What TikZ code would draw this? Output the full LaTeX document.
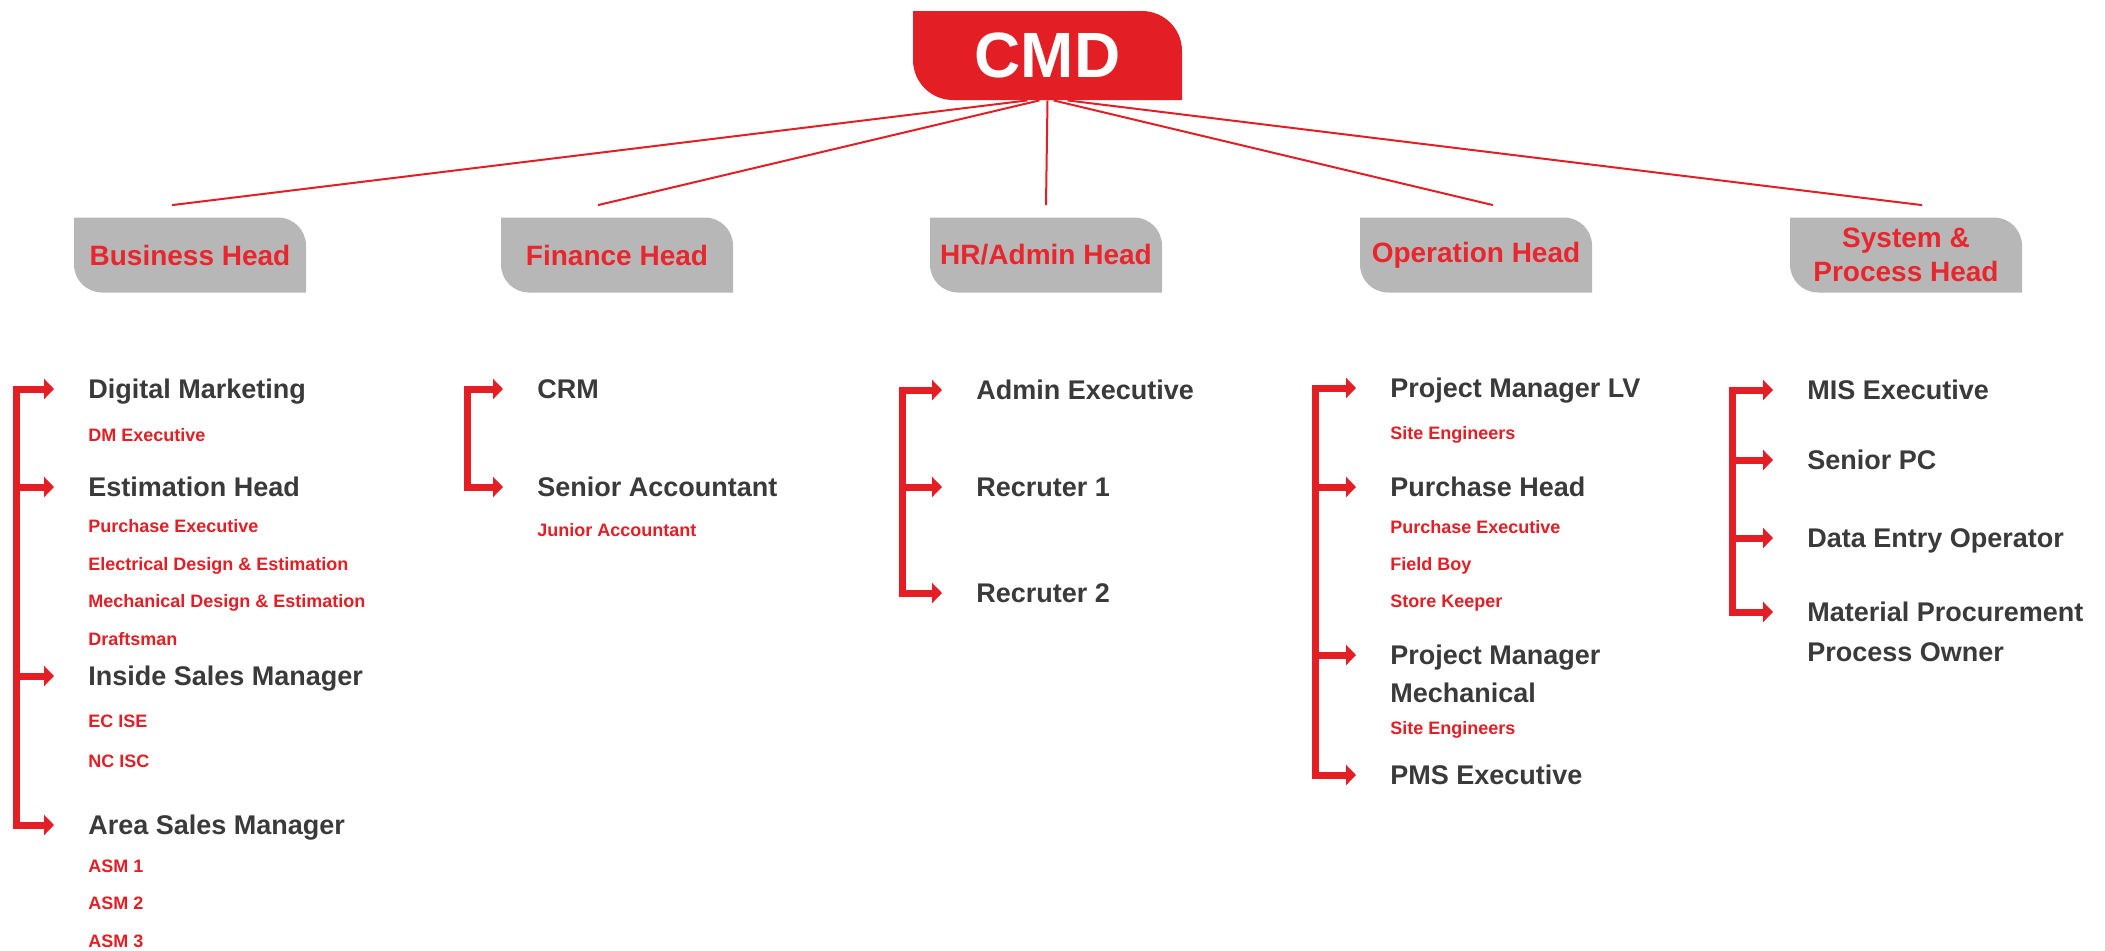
\documentclass[tikz,border=0pt]{standalone}
\usepackage{fontspec}
\setmainfont{Liberation Sans}
\usetikzlibrary{arrows.meta}
\definecolor{cmdred}{HTML}{E31E25}
\definecolor{headred}{HTML}{E8262D}
\definecolor{headgray}{HTML}{B7B7B7}
\definecolor{itemgray}{HTML}{3A3A3A}
\tikzset{
  leaf/.style 2 args={path picture={\fill[#1] (path picture bounding box.north west)
    -- ([xshift=-#2]path picture bounding box.north east) arc[start angle=90,end angle=0,radius=#2]
    -- (path picture bounding box.south east)
    -- ([xshift=#2]path picture bounding box.south west) arc[start angle=270,end angle=180,radius=#2]
    -- cycle;}},
  head/.style={minimum width=116pt, minimum height=37.5pt, inner sep=0pt, align=center,
    text=headred, font=\fontsize{14}{17}\selectfont\bfseries, leaf={headgray}{14pt}},
  item/.style={anchor=west, inner sep=0pt, text=itemgray, font=\fontsize{13.5}{16}\selectfont\bfseries,
    text height=9.7pt, text depth=0pt},
  sub/.style={anchor=west, inner sep=0pt, text=cmdred, font=\fontsize{9}{11}\selectfont\bfseries,
    text height=6.4pt, text depth=0pt},
  link/.style={draw=cmdred, line width=1pt},
  spine/.style={draw=cmdred, line width=3.5pt, line cap=rect},
  brk/.style={draw=cmdred, line width=3.5pt, -{Triangle[length=5pt,width=10pt]}, shorten >=17pt}
}
\begin{document}
\begin{tikzpicture}[x=0.5pt,y=-0.5pt]
\useasboundingbox (0,0) rectangle (2105,950);

\node [minimum width=134.5pt, minimum height=44.5pt, inner sep=0pt, text=white,
  font=\fontsize{32}{36}\selectfont\bfseries, leaf={cmdred}{20pt}] (cmd) at (1047.5,55.5) {CMD};

\node [head] (bh) at (190,255) {Business Head};
\node [head] (fh) at (617,255) {Finance Head};
\node [head] (hh) at (1046,255) {HR/Admin Head};
\node [head] (oh) at (1476,255) {Operation Head};
\node [head] (sh) at (1906,255) {System \&\\Process Head};

\draw [link] ([xshift=-10pt]cmd.south) -- ([xshift=-9pt,yshift=6pt]bh.north);
\draw [link] ([xshift=-4pt]cmd.south) -- ([xshift=-9.5pt,yshift=6pt]fh.north);
\draw [link] (cmd.south) -- ([yshift=6pt]hh.north);
\draw [link] ([xshift=3pt]cmd.south) -- ([xshift=8.5pt,yshift=6pt]oh.north);
\draw [link] ([xshift=10pt]cmd.south) -- ([xshift=8pt,yshift=6pt]sh.north);

\coordinate (bsp) at (16,0);
\node [item] (dm) at (88,389) {Digital Marketing};
\node [sub] (dmx) at (88,435) {DM Executive};
\node [item] (est) at (88,487) {Estimation Head};
\node [sub] (est1) at (88,526) {Purchase Executive};
\node [sub] (est2) at (88,564) {Electrical Design \& Estimation};
\node [sub] (est3) at (88,601) {Mechanical Design \& Estimation};
\node [sub] (est4) at (88,639) {Draftsman};
\node [item] (ism) at (88,676) {Inside Sales Manager};
\node [sub] (ism1) at (88,721) {EC ISE};
\node [sub] (ism2) at (88,761) {NC ISC};
\node [item] (asm) at (88,825) {Area Sales Manager};
\node [sub] (asm1) at (88,866) {ASM 1};
\node [sub] (asm2) at (88,903) {ASM 2};
\node [sub] (asm3) at (88,941) {ASM 3};
\draw [spine] (bsp |- dm.west) -- (bsp |- asm.west);
\draw [brk] (bsp |- dm.west) -- (dm.west);
\draw [brk] (bsp |- est.west) -- (est.west);
\draw [brk] (bsp |- ism.west) -- (ism.west);
\draw [brk] (bsp |- asm.west) -- (asm.west);

\coordinate (fsp) at (467,0);
\node [item] (crm) at (537,389) {CRM};
\node [item] (sac) at (537,487) {Senior Accountant};
\node [sub] (jac) at (537,530) {Junior Accountant};
\draw [spine] (fsp |- crm.west) -- (fsp |- sac.west);
\draw [brk] (fsp |- crm.west) -- (crm.west);
\draw [brk] (fsp |- sac.west) -- (sac.west);

\coordinate (hsp) at (902,0);
\node [item] (adm) at (976,390) {Admin Executive};
\node [item] (rc1) at (976,487) {Recruter 1};
\node [item] (rc2) at (976,593) {Recruter 2};
\draw [spine] (hsp |- adm.west) -- (hsp |- rc2.west);
\draw [brk] (hsp |- adm.west) -- (adm.west);
\draw [brk] (hsp |- rc1.west) -- (rc1.west);
\draw [brk] (hsp |- rc2.west) -- (rc2.west);

\coordinate (osp) at (1315,0);
\node [item] (pml) at (1390,388) {Project Manager LV};
\node [sub] (pml1) at (1390,433) {Site Engineers};
\node [item] (puh) at (1390,487) {Purchase Head};
\node [sub] (puh1) at (1390,527) {Purchase Executive};
\node [sub] (puh2) at (1390,564) {Field Boy};
\node [sub] (puh3) at (1390,601) {Store Keeper};
\node [item] (pmm) at (1390,655) {Project Manager};
\node [item] (pmm2) at (1390,693) {Mechanical};
\node [sub] (pmm1) at (1390,728) {Site Engineers};
\node [item] (pms) at (1390,775) {PMS Executive};
\draw [spine] (osp |- pml.west) -- (osp |- pms.west);
\draw [brk] (osp |- pml.west) -- (pml.west);
\draw [brk] (osp |- puh.west) -- (puh.west);
\draw [brk] (osp |- pmm.west) -- (pmm.west);
\draw [brk] (osp |- pms.west) -- (pms.west);

\coordinate (ssp) at (1732,0);
\node [item] (mis) at (1807,390) {MIS Executive};
\node [item] (spc) at (1807,460) {Senior PC};
\node [item] (deo) at (1807,538) {Data Entry Operator};
\node [item] (mpr) at (1807,612) {Material Procurement};
\node [item] (mpo) at (1807,652) {Process Owner};
\draw [spine] (ssp |- mis.west) -- (ssp |- mpr.west);
\draw [brk] (ssp |- mis.west) -- (mis.west);
\draw [brk] (ssp |- spc.west) -- (spc.west);
\draw [brk] (ssp |- deo.west) -- (deo.west);
\draw [brk] (ssp |- mpr.west) -- (mpr.west);
\end{tikzpicture}
\end{document}
